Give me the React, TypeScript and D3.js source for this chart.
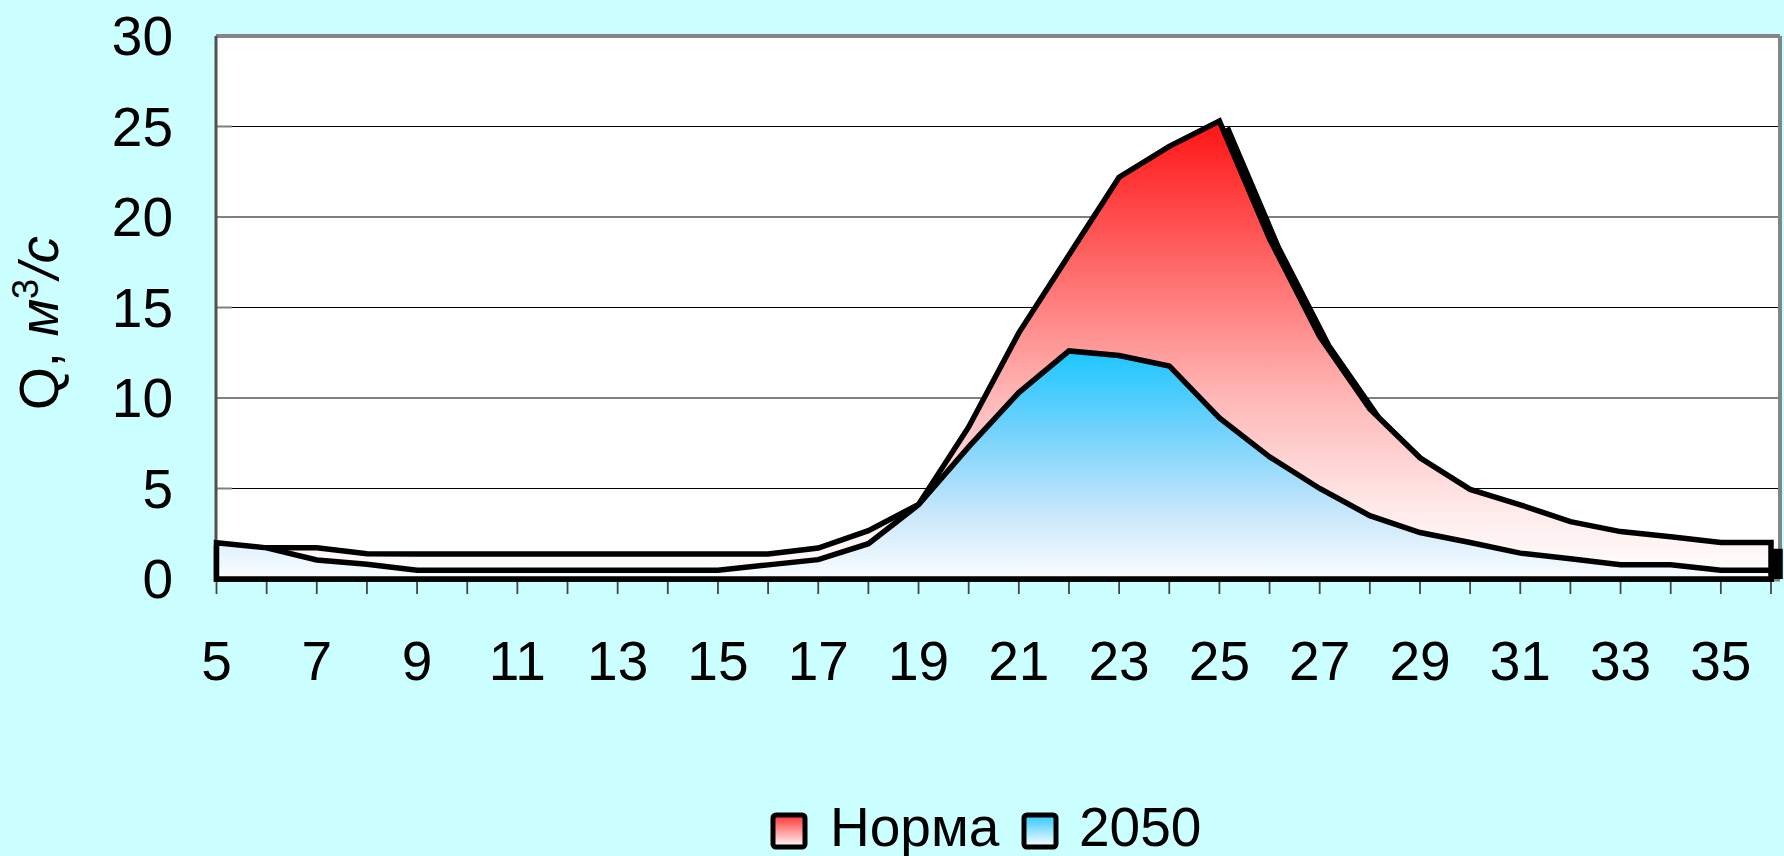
import React from "react";
import * as d3 from "d3";

const weeks = [5,6,7,8,9,10,11,12,13,14,15,16,17,18,19,20,21,22,23,24,25,26,27,28,29,30,31,32,33,34,35,36];
const norma = [1.7,1.72,1.72,1.4,1.38,1.38,1.38,1.38,1.38,1.38,1.38,1.38,1.71,2.67,4.12,8.4,13.6,17.9,22.2,23.9,25.3,18.8,13.4,9.4,6.7,4.95,4.1,3.17,2.62,2.33,2.02,2.02];
const y2050 = [2.0,1.72,1.05,0.82,0.48,0.48,0.48,0.48,0.48,0.48,0.48,0.78,1.07,1.95,4.1,7.3,10.3,12.6,12.35,11.77,8.9,6.75,5.0,3.5,2.57,2.02,1.43,1.12,0.79,0.79,0.48,0.48];
const yTicks = [0,5,10,15,20,25,30];
const xLabels = [5,7,9,11,13,15,17,19,21,23,25,27,29,31,33,35];
const seriesNames = ["Норма", "2050"];

const W = 1784, H = 856;
const plot = { left: 216, right: 1780, top: 36, bottom: 579 };
const FONT = "'Liberation Sans', Arial, sans-serif";
const SW = 5.5;

export default function App() {
  const x = d3.scaleLinear().domain([5, 36]).range([216.5, 1771]);
  const y = d3.scaleLinear().domain([0, 30]).range([plot.bottom, plot.top]);
  const area = d3.area<number>()
    .x((_, i) => x(weeks[i]))
    .y0(() => y(0))
    .y1((d) => y(d));
  const normaPath = area(norma) as string;
  const p2050 = area(y2050) as string;

  return (
    <div style={{ position: "fixed", left: 0, top: 0, width: W, height: H }}>
      <svg width={W} height={H} style={{ display: "block", fontFamily: FONT }}>
        <defs>
          <linearGradient id="gRed" x1="0" y1="0" x2="0" y2="1">
            <stop offset="0" stopColor="#ff1414" />
            <stop offset="0.3" stopColor="#ff6464" />
            <stop offset="0.6" stopColor="#ffb6b6" />
            <stop offset="0.85" stopColor="#ffeaea" />
            <stop offset="1" stopColor="#ffffff" />
          </linearGradient>
          <linearGradient id="gBlue" x1="0" y1="0" x2="0" y2="1">
            <stop offset="0" stopColor="#1cc6ff" />
            <stop offset="0.35" stopColor="#72d2fc" />
            <stop offset="0.7" stopColor="#c6e6fb" />
            <stop offset="1" stopColor="#fbfdff" />
          </linearGradient>
          <linearGradient id="gRedL" x1="0" y1="0" x2="0" y2="1">
            <stop offset="0" stopColor="#ff3030" />
            <stop offset="1" stopColor="#ffffff" />
          </linearGradient>
          <linearGradient id="gBlueL" x1="0" y1="0" x2="0" y2="1">
            <stop offset="0" stopColor="#2cc8ff" />
            <stop offset="1" stopColor="#ffffff" />
          </linearGradient>
          <clipPath id="shClip">
            <rect x={plot.left} y={plot.top} width={W - plot.left} height={plot.bottom - plot.top} />
          </clipPath>
        </defs>
        <rect x={0} y={0} width={W} height={H} fill="#ccffff" />
        <rect x={plot.left} y={plot.top} width={plot.right - plot.left} height={plot.bottom - plot.top} fill="#ffffff" />
        {yTicks.filter((t) => t > 0 && t < 30).map((t) => (
          <line key={t} x1={plot.left} x2={plot.right} y1={y(t)} y2={y(t)} stroke="#000" strokeWidth={1.2} />
        ))}
        {yTicks.map((t) => (
          <line key={"it" + t} x1={plot.left} x2={plot.left + 16} y1={y(t)} y2={y(t)} stroke="#808080" strokeWidth={2} />
        ))}
        <line x1={plot.left} x2={plot.right} y1={plot.top} y2={plot.top} stroke="#858585" strokeWidth={4} />
        <line x1={plot.right} x2={plot.right} y1={plot.top} y2={plot.bottom} stroke="#858585" strokeWidth={4} />
        <line x1={plot.left} x2={plot.left} y1={plot.top} y2={plot.bottom} stroke="#505050" strokeWidth={3} />
        <line x1={plot.left} x2={plot.right} y1={plot.bottom + 1} y2={plot.bottom + 1} stroke="#808080" strokeWidth={3} />
        {weeks.map((w) => (
          <line key={"xt" + w} x1={x(w)} x2={x(w)} y1={plot.bottom} y2={plot.bottom + 15} stroke="#444" strokeWidth={1.8} />
        ))}
        <g clipPath="url(#shClip)">
          <path d={normaPath} transform="translate(9,9)" fill="#000" stroke="#000" strokeWidth={SW} strokeLinejoin="miter" />
        </g>
        <path d={normaPath} fill="url(#gRed)" stroke="#000" strokeWidth={SW} strokeLinejoin="miter" />
        <path d={p2050} fill="url(#gBlue)" stroke="#000" strokeWidth={SW} strokeLinejoin="miter" />
        {yTicks.map((t) => (
          <text key={"yl" + t} x={173} y={y(t)} dy="0.35em" textAnchor="end" fontSize={55} fill="#000">{t}</text>
        ))}
        {xLabels.map((w) => (
          <text key={"xl" + w} x={x(w)} y={660} dy="0.36em" textAnchor="middle" fontSize={55} fill="#000">{w}</text>
        ))}
        <text transform="translate(58,323) rotate(-90)" textAnchor="middle" fontSize={55} fill="#000">
          <tspan>Q, </tspan>
          <tspan fontStyle="italic">м</tspan>
          <tspan fontSize={36} dy={-20}>3</tspan>
          <tspan fontStyle="italic" dy={20}>/с</tspan>
        </text>
        <g>
          <rect x={773} y={815} width={32} height={32} rx={3} fill="url(#gRedL)" stroke="#000" strokeWidth={5} />
          <text x={830} y={846} fontSize={55} fill="#000">{seriesNames[0]}</text>
          <rect x={1024} y={815} width={32} height={32} rx={3} fill="url(#gBlueL)" stroke="#000" strokeWidth={5} />
          <text x={1079} y={846} fontSize={55} fill="#000">{seriesNames[1]}</text>
        </g>
      </svg>
    </div>
  );
}
